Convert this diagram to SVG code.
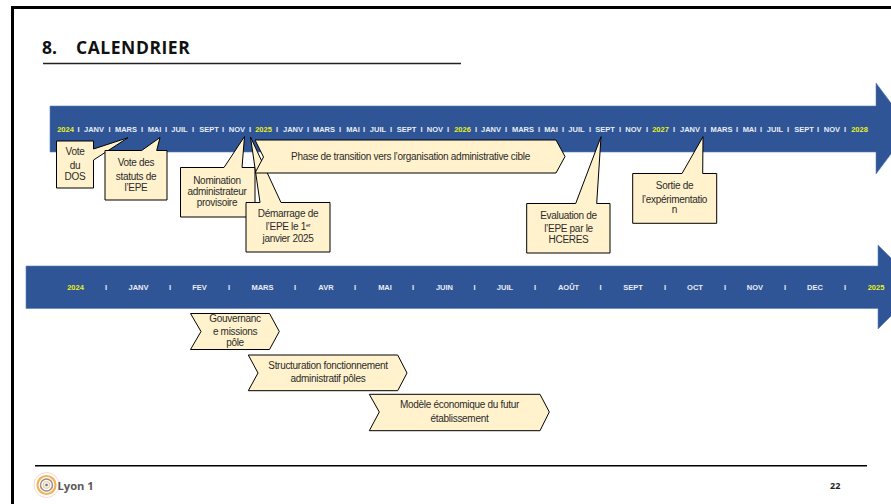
<svg xmlns="http://www.w3.org/2000/svg" width="891" height="504" viewBox="0 0 891 504">
<style>
.band{fill:#2f5597;stroke:#5b7fb5;stroke-width:.6}
.m{font:bold 7.5px "Liberation Sans",Arial,sans-serif;fill:#e9edf5;text-anchor:middle}
.y{fill:#e8f01c}
.c{fill:#fff2cc;stroke:#000;stroke-width:1;stroke-linejoin:miter}
.t{font:10px "Liberation Sans",Arial,sans-serif;fill:#2b2b2b;text-anchor:middle;letter-spacing:-.3px}
.o{font-family:"Open Sans","Noto Sans",sans-serif;font-weight:700}
</style>
<rect width="891" height="504" fill="#fff"/>
<path d="M12.500 504V7.500H891" fill="none" stroke="#000" stroke-width="3"/>
<g id="title">
<text class="o" x="42" y="54" font-size="17.500" fill="#111">8.</text>
<text class="o" x="76" y="54" font-size="17.500" letter-spacing=".55" fill="#111">CALENDRIER</text>
<path d="M43 63.500H461" stroke="#222" stroke-width="1.500"/>
</g>
<g id="timeline-2024-2028">
<path class="band" d="M50 106H876V83L910 128.500L876 174V152H50Z"/>
<text class="m y" x="65.500" y="131.500">2024</text><text class="m" x="78.500" y="131.500">I</text><text class="m" x="94" y="131.500">JANV</text><text class="m" x="109.500" y="131.500">I</text><text class="m" x="126" y="131.500">MARS</text><text class="m" x="142" y="131.500">I</text><text class="m" x="154.500" y="131.500">MAI</text><text class="m" x="166" y="131.500">I</text><text class="m" x="179.500" y="131.500">JUIL</text><text class="m" x="193" y="131.500">I</text><text class="m" x="209" y="131.500">SEPT</text><text class="m" x="223" y="131.500">I</text><text class="m" x="237" y="131.500">NOV</text><text class="m" x="250" y="131.500">I</text>
<text class="m y" x="263.500" y="131.500">2025</text><text class="m" x="277" y="131.500">I</text><text class="m" x="293" y="131.500">JANV</text><text class="m" x="308" y="131.500">I</text><text class="m" x="324" y="131.500">MARS</text><text class="m" x="340" y="131.500">I</text><text class="m" x="353" y="131.500">MAI</text><text class="m" x="364" y="131.500">I</text><text class="m" x="378" y="131.500">JUIL</text><text class="m" x="391" y="131.500">I</text><text class="m" x="406.500" y="131.500">SEPT</text><text class="m" x="421.500" y="131.500">I</text><text class="m" x="435" y="131.500">NOV</text><text class="m" x="448" y="131.500">I</text>
<text class="m y" x="462.500" y="131.500">2026</text><text class="m" x="476" y="131.500">I</text><text class="m" x="491" y="131.500">JANV</text><text class="m" x="506" y="131.500">I</text><text class="m" x="523" y="131.500">MARS</text><text class="m" x="539" y="131.500">I</text><text class="m" x="551" y="131.500">MAI</text><text class="m" x="563" y="131.500">I</text><text class="m" x="576.500" y="131.500">JUIL</text><text class="m" x="590" y="131.500">I</text><text class="m" x="605" y="131.500">SEPT</text><text class="m" x="620" y="131.500">I</text><text class="m" x="633.500" y="131.500">NOV</text><text class="m" x="647" y="131.500">I</text>
<text class="m y" x="660.500" y="131.500">2027</text><text class="m" x="674" y="131.500">I</text><text class="m" x="690" y="131.500">JANV</text><text class="m" x="705" y="131.500">I</text><text class="m" x="721.500" y="131.500">MARS</text><text class="m" x="737" y="131.500">I</text><text class="m" x="749.500" y="131.500">MAI</text><text class="m" x="761" y="131.500">I</text><text class="m" x="775" y="131.500">JUIL</text><text class="m" x="788" y="131.500">I</text><text class="m" x="804" y="131.500">SEPT</text><text class="m" x="818" y="131.500">I</text><text class="m" x="832" y="131.500">NOV</text><text class="m" x="845" y="131.500">I</text>
<text class="m y" x="859.500" y="131.500">2028</text>
</g>
<g id="timeline-2024-2025">
<path class="band" d="M26 266H878V245L920 287L878 329V308.500H26Z"/>
<text class="m y" x="75.500" y="290">2024</text><text class="m" x="106" y="290">I</text><text class="m" x="138.500" y="290">JANV</text><text class="m" x="170" y="290">I</text><text class="m" x="199.500" y="290">FEV</text><text class="m" x="229" y="290">I</text><text class="m" x="262.500" y="290">MARS</text><text class="m" x="295" y="290">I</text><text class="m" x="326" y="290">AVR</text><text class="m" x="355" y="290">I</text><text class="m" x="385" y="290">MAI</text><text class="m" x="413" y="290">I</text><text class="m" x="444.500" y="290">JUIN</text><text class="m" x="474.500" y="290">I</text><text class="m" x="505" y="290">JUIL</text><text class="m" x="535" y="290">I</text><text class="m" x="568.500" y="290">AOÛT</text><text class="m" x="600.500" y="290">I</text><text class="m" x="633" y="290">SEPT</text><text class="m" x="665" y="290">I</text><text class="m" x="695" y="290">OCT</text><text class="m" x="725" y="290">I</text><text class="m" x="755" y="290">NOV</text><text class="m" x="785" y="290">I</text><text class="m" x="815" y="290">DEC</text><text class="m" x="845" y="290">I</text><text class="m y" x="876" y="290">2025</text>
</g>
<g id="vote-dos">
<path class="c" d="M56.500 141H93.500V149L128 137.700L93.500 160V188H56.500Z"/>
<text class="t" x="75" y="155">Vote</text><text class="t" x="75" y="169">du</text><text class="t" x="75" y="180">DOS</text>
</g>
<g id="vote-statuts">
<path class="c" d="M105 150.500H141.700L160 137.500L156.700 150.500H167V200H105Z"/>
<text class="t" x="136" y="166">Vote des</text><text class="t" x="136" y="180">statuts de</text><text class="t" x="136" y="191">l’EPE</text>
</g>
<g id="nomination">
<path class="c" d="M180.500 167.500H224L244.500 136.500L242 167.500H255V217H180.500Z"/>
<text class="t" x="217" y="184">Nomination</text><text class="t" x="217" y="195">administrateur</text><text class="t" x="217" y="206">provisoire</text>
</g>
<g id="demarrage">
<path class="c" d="M246 202.500H260L250.500 137L281 202.500H330V252H246Z"/>
<text class="t" x="288" y="217">Démarrage de</text><text class="t" x="288" y="230">l’EPE le 1<tspan font-size="5.500" dy="-3">er</tspan></text><text class="t" x="288" y="241.500">janvier 2025</text>
</g>
<g id="phase-transition">
<path class="c" d="M255 140H556L565 156.500L556 173H255L263.500 157Z"/>
<text class="t" x="410.500" y="159.500">Phase de transition vers l’organisation administrative cible</text>
</g>
<g id="evaluation">
<path class="c" d="M526.700 203.500H575.700L601 136.700L596.700 203.500H610V253H526.700Z"/>
<text class="t" x="568.500" y="218.500">Evaluation de</text><text class="t" x="568.500" y="232">l’EPE par le</text><text class="t" x="568.500" y="242.500">HCERES</text>
</g>
<g id="sortie">
<path class="c" d="M632.700 173.500H682L703 136.700L702.700 173.500H716.700V223.300H632.700Z"/>
<text class="t" x="674.500" y="188.500">Sortie de</text><text class="t" x="674.500" y="203">l’expérimentatio</text><text class="t" x="674.500" y="213">n</text>
</g>
<g id="gouvernance">
<path class="c" d="M190.500 313.500H269.500L279.300 331.500L269.500 349.500H190.500L201 331.500Z"/>
<text class="t" x="235" y="321.500">Gouvernanc</text><text class="t" x="235" y="335">e missions</text><text class="t" x="235" y="345.500">pôle</text>
</g>
<g id="structuration">
<path class="c" d="M248.300 355H397.700L407 373L397.700 390.700H248.300L258 373Z"/>
<text class="t" x="328" y="369">Structuration fonctionnement</text><text class="t" x="328" y="382">administratif pôles</text>
</g>
<g id="modele">
<path class="c" d="M369.300 394.300H540L549.300 412L540 430.700H369.300L379.300 412Z"/>
<text class="t" x="459.500" y="408">Modèle économique du futur</text><text class="t" x="459.500" y="421.500">établissement</text>
</g>
<g id="footer">
<path d="M35 465.750H867" stroke="#000" stroke-width="1.500"/>
<g fill="none">
<circle cx="46.500" cy="485" r="12.500" stroke="#f8d8d0" stroke-width="1"/>
<circle cx="46.500" cy="485" r="9" stroke="#f3b25a" stroke-width="2.200"/>
<circle cx="46.500" cy="485" r="6" stroke="#9a8f85" stroke-width="1.500"/>
<circle cx="46.500" cy="485" r="3.500" fill="#efefef" stroke="#f3b25a" stroke-width=".7"/>
<circle cx="46.500" cy="485" r="1.300" fill="#777"/>
</g>
<text class="o" x="57.500" y="489.500" font-size="11.200" fill="#5a5a5a">Lyon 1</text>
<text class="o" x="830" y="489" font-size="9" fill="#222">22</text>
</g>
</svg>
